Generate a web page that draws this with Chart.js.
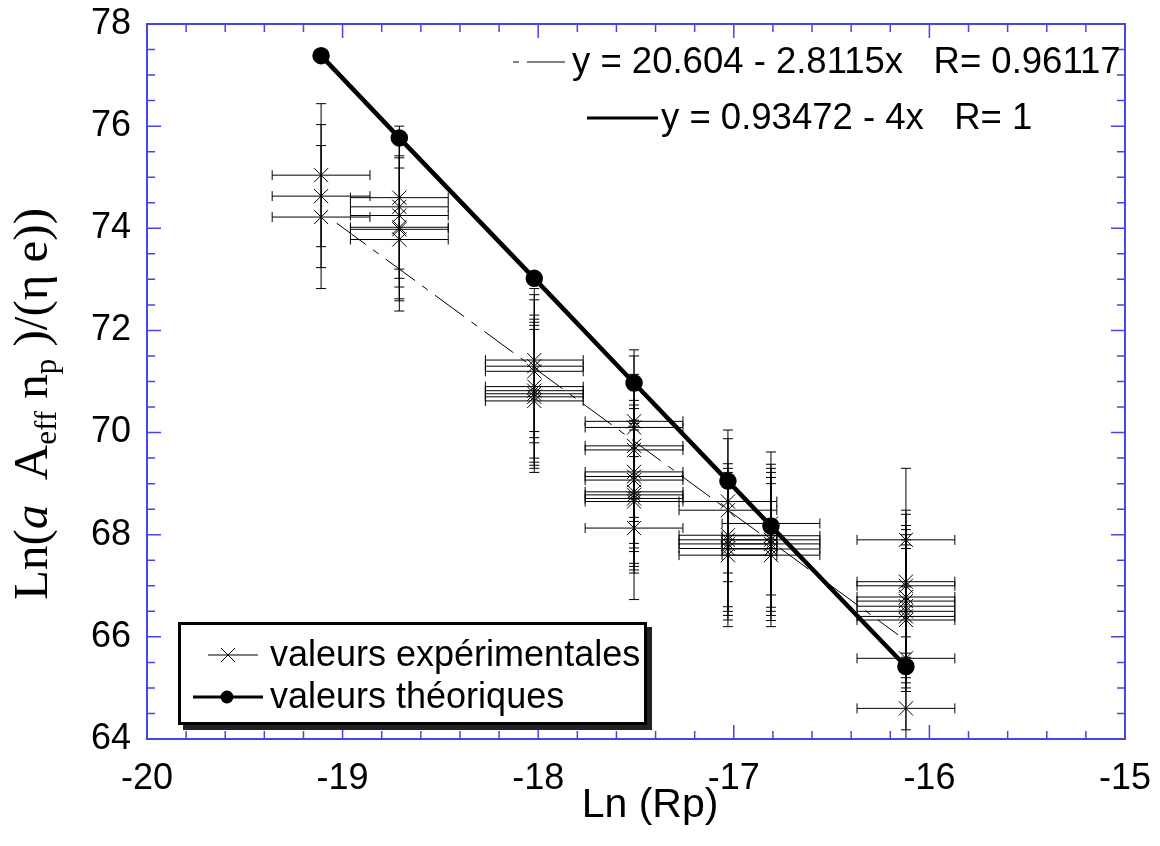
<!DOCTYPE html>
<html>
<head>
<meta charset="utf-8">
<script src="https://cdn.jsdelivr.net/npm/chart.js@4.4.0/dist/chart.umd.min.js"></script>
<style>
  html, body { margin: 0; padding: 0; background: #fff; }
</style>
</head>
<body>
<canvas id="chart" width="1160" height="846"></canvas>
<script>
// Ln(Rp) positions of the seven measurement groups
const clusterX = [-19.11, -18.71, -18.02, -17.51, -17.03, -16.81, -16.12];

const expY = [
  [75.04, 74.63, 74.22],
  [74.60, 74.42, 74.25, 74.02, 73.98, 73.78],
  [71.42, 71.30, 71.20, 70.90, 70.82, 70.76, 70.70, 70.62],
  [70.22, 70.10, 69.74, 69.66, 69.23, 69.14, 69.07, 68.84, 68.78, 68.71, 68.65, 68.13],
  [68.65, 68.48, 67.99, 67.90, 67.82, 67.73, 67.60],
  [68.22, 67.98, 67.90, 67.82, 67.72, 67.60],
  [67.90, 67.08, 67.00, 66.78, 66.70, 66.60, 66.50, 66.40, 66.33, 65.58, 64.60]
];
const xErr = 0.25;
const yErr = 1.4;

// theoretical values
const theoY = [77.38, 75.77, 73.02, 70.97, 69.05, 68.17, 65.42];

// linear fit of the experimental values (end points)
const fitX = [-19.03, -16.16];
const fitY = [74.10, 66.04];

const xTicks = [-20, -19, -18, -17, -16, -15];
const yTicks = [64, 66, 68, 70, 72, 74, 76, 78];

const xTitle = 'Ln (Rp)';
const fitLabels = ['y = 20.604 - 2.8115x   R= 0.96117', 'y = 0.93472 - 4x   R= 1'];

const SANS = "'Liberation Sans', Arial, sans-serif";
const SERIF = "'Liberation Serif', 'Times New Roman', serif";
const BLUE = '#4646e6';

const expPoints = [];
clusterX.forEach((x, i) => expY[i].forEach(y => expPoints.push({ x, y })));
const theoPoints = clusterX.map((x, i) => ({ x, y: theoY[i] }));
const fitPoints = fitX.map((x, i) => ({ x, y: fitY[i] }));

// keep the plot box where the reference has it
function noPad(s) {
  s.paddingTop = 0; s.paddingBottom = 0; s.paddingLeft = 0; s.paddingRight = 0;
}

/* ------------------------------ error bars ------------------------------ */
const errorBars = {
  id: 'errorBars',
  beforeDatasetsDraw(chart) {
    const { ctx, chartArea: a, scales: { x, y } } = chart;
    const cap = 5;
    ctx.save();
    ctx.beginPath();
    ctx.rect(a.left, a.top, a.width, a.height);
    ctx.clip();
    ctx.strokeStyle = '#000';
    ctx.lineWidth = 1;
    expPoints.forEach(p => {
      const px = x.getPixelForValue(p.x), py = y.getPixelForValue(p.y);
      const x0 = x.getPixelForValue(p.x - xErr), x1 = x.getPixelForValue(p.x + xErr);
      const y0 = y.getPixelForValue(p.y - yErr), y1 = y.getPixelForValue(p.y + yErr);
      ctx.beginPath();
      ctx.moveTo(x0, py); ctx.lineTo(x1, py);
      ctx.moveTo(x0, py - cap); ctx.lineTo(x0, py + cap);
      ctx.moveTo(x1, py - cap); ctx.lineTo(x1, py + cap);
      ctx.moveTo(px, y0); ctx.lineTo(px, y1);
      ctx.moveTo(px - cap, y0); ctx.lineTo(px + cap, y0);
      ctx.moveTo(px - cap, y1); ctx.lineTo(px + cap, y1);
      ctx.stroke();
    });
    ctx.restore();
  }
};

/* ------------------------- frame, ticks, texts ------------------------- */
const decorations = {
  id: 'decorations',
  afterDraw(chart) {
    const { ctx, chartArea: a, scales: { x, y } } = chart;
    ctx.save();

    // blue frame with inward ticks on all four sides
    ctx.strokeStyle = BLUE;
    ctx.lineWidth = 2;
    ctx.strokeRect(a.left, a.top, a.width, a.height);
    ctx.lineWidth = 1.5;
    ctx.beginPath();
    for (let i = 0; i <= 25; i++) {
      const px = x.getPixelForValue(-20 + i * 0.2);
      const len = i % 5 === 0 ? 14 : 8;
      ctx.moveTo(px, a.bottom); ctx.lineTo(px, a.bottom - len);
      ctx.moveTo(px, a.top); ctx.lineTo(px, a.top + len);
    }
    for (let i = 0; i <= 28; i++) {
      const py = y.getPixelForValue(64 + i * 0.5);
      const len = i % 4 === 0 ? 14 : 8;
      ctx.moveTo(a.left, py); ctx.lineTo(a.left + len, py);
      ctx.moveTo(a.right, py); ctx.lineTo(a.right - len, py);
    }
    ctx.stroke();

    // x axis title
    ctx.fillStyle = '#000';
    ctx.textBaseline = 'middle';
    ctx.textAlign = 'center';
    ctx.font = '41px ' + SANS;
    ctx.fillText(xTitle, 650, 806);

    // fit equations, top right
    ctx.strokeStyle = '#000';
    ctx.font = '36.5px ' + SANS;
    ctx.textAlign = 'left';
    ctx.lineWidth = 1;
    ctx.setLineDash([6, 8, 40, 8]);
    ctx.beginPath(); ctx.moveTo(513, 62); ctx.lineTo(565, 62); ctx.stroke();
    ctx.setLineDash([]);
    ctx.fillText(fitLabels[0], 572, 63);
    ctx.lineWidth = 3;
    ctx.beginPath(); ctx.moveTo(587, 118); ctx.lineTo(658, 118); ctx.stroke();
    ctx.fillText(fitLabels[1], 661, 119);

    // legend box with shadow
    const lx = 178, ly = 622, lw = 469, lh = 103;
    ctx.fillStyle = '#222';
    ctx.fillRect(lx + 5, ly + 5, lw, lh);
    ctx.fillStyle = '#fff';
    ctx.fillRect(lx, ly, lw, lh);
    ctx.lineWidth = 3;
    ctx.strokeStyle = '#000';
    ctx.strokeRect(lx + 1.5, ly + 1.5, lw - 3, lh - 3);

    const dsExp = chart.data.datasets[0], dsTheo = chart.data.datasets[2];
    ctx.font = '36px ' + SANS;
    ctx.lineWidth = 1;
    ctx.beginPath(); ctx.moveTo(208, 655); ctx.lineTo(258, 655); ctx.stroke();
    Chart.helpers.drawPoint(ctx, { pointStyle: 'crossRot', radius: 10, borderWidth: 1 }, 228, 655);
    ctx.lineWidth = 3;
    ctx.beginPath(); ctx.moveTo(193, 697); ctx.lineTo(263, 697); ctx.stroke();
    ctx.fillStyle = '#000';
    ctx.beginPath(); ctx.arc(227, 697, 6.5, 0, Math.PI * 2); ctx.fill();
    ctx.fillText(dsExp.label, 270, 656);
    ctx.fillText(dsTheo.label, 270, 698);

    // y axis title with italic and subscripts
    ctx.translate(47, 600);
    ctx.rotate(-Math.PI / 2);
    ctx.textBaseline = 'alphabetic';
    const parts = [
      ['Ln(', '', 49, 0],
      ['a', 'italic ', 49, 0],
      ['  A', '', 49, 0],
      ['eff', '', 31, 9],
      [' n', '', 49, 0],
      ['p', '', 31, 9],
      [' )/(\u03b7 e))', '', 49, 0]
    ];
    let cx = 0;
    parts.forEach(([t, style, size, dy]) => {
      ctx.font = style + size + 'px ' + SERIF;
      ctx.fillText(t, cx, dy);
      cx += ctx.measureText(t).width;
    });

    ctx.restore();
  }
};

new Chart(document.getElementById('chart'), {
  type: 'scatter',
  data: {
    datasets: [
      {
        label: 'valeurs expérimentales',
        data: expPoints,
        showLine: false,
        pointStyle: 'crossRot',
        pointRadius: 10,
        pointBorderWidth: 1,
        borderColor: '#000',
        backgroundColor: '#000',
        order: 2
      },
      {
        label: 'fit',
        data: fitPoints,
        showLine: true,
        borderColor: '#000',
        borderWidth: 1,
        borderDash: [36, 9, 7, 9],
        pointRadius: 0,
        order: 1
      },
      {
        label: 'valeurs théoriques',
        data: theoPoints,
        showLine: true,
        borderColor: '#000',
        borderWidth: 4.5,
        pointRadius: 6.5,
        pointBackgroundColor: '#000',
        pointBorderColor: '#000',
        order: 0
      }
    ]
  },
  options: {
    responsive: false,
    animation: false,
    layout: { padding: { top: 24, right: 35, left: 0, bottom: 0 } },
    plugins: { legend: { display: false }, tooltip: { enabled: false } },
    scales: {
      x: {
        type: 'linear',
        min: -20, max: -15,
        afterFit: s => { s.height = 107; noPad(s); },
        afterBuildTicks: s => { s.ticks = xTicks.map(v => ({ value: v })); },
        grid: { display: false, drawTicks: false },
        border: { display: false },
        ticks: { color: '#000', font: { family: SANS, size: 36 }, padding: 18 }
      },
      y: {
        type: 'linear',
        min: 64, max: 78,
        afterFit: s => { s.width = 147; noPad(s); },
        afterBuildTicks: s => { s.ticks = yTicks.map(v => ({ value: v })); },
        grid: { display: false, drawTicks: false },
        border: { display: false },
        ticks: { color: '#000', font: { family: SANS, size: 36 }, padding: 16 }
      }
    }
  },
  plugins: [errorBars, decorations]
});
</script>
</body>
</html>
